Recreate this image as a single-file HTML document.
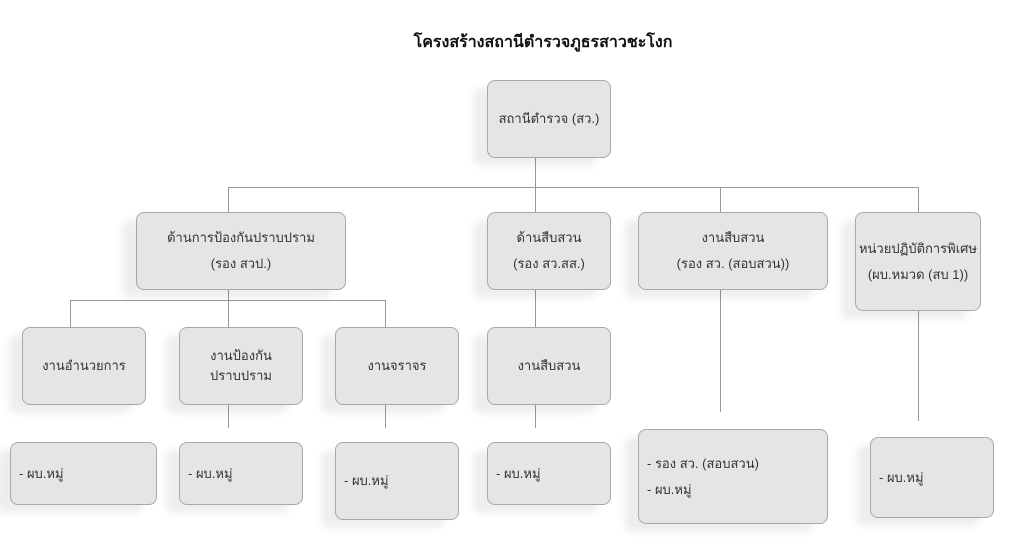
<!DOCTYPE html>
<html><head><meta charset="utf-8"><style>
body{margin:0;width:1024px;height:550px;background:#fff;position:relative;font-family:"Liberation Sans","DejaVu Sans","Noto Sans CJK SC",sans-serif;overflow:hidden}
.b{position:absolute;box-sizing:border-box;background:#e5e5e5;border:1px solid #a8a8a8;border-radius:8px;box-shadow:-14px 8px 8px rgba(0,0,0,0.07);display:flex;flex-direction:column;justify-content:center;align-items:center;text-align:center;font-size:13px;color:#333;line-height:26px}
.l{align-items:flex-start;text-align:left;padding-left:8px}
.h{position:absolute;height:1px;background:#999}
.v{position:absolute;width:1px;background:#999}
.t{position:absolute;top:30px;left:0;width:1086px;text-align:center;font-weight:bold;font-size:16px;color:#111}
</style></head><body>
<div class="t">โครงสร้างสถานีตำรวจภูธรสาวชะโงก</div>
<div class="v" style="left:535px;top:158px;height:54px"></div>
<div class="h" style="left:228px;top:187px;width:691px"></div>
<div class="v" style="left:228px;top:187px;height:25px"></div>
<div class="v" style="left:720px;top:187px;height:25px"></div>
<div class="v" style="left:918px;top:187px;height:25px"></div>
<div class="v" style="left:228px;top:290px;height:10px"></div>
<div class="h" style="left:70px;top:300px;width:316px"></div>
<div class="v" style="left:70px;top:300px;height:27px"></div>
<div class="v" style="left:228px;top:300px;height:27px"></div>
<div class="v" style="left:385px;top:300px;height:27px"></div>
<div class="v" style="left:535px;top:290px;height:37px"></div>
<div class="v" style="left:228px;top:405px;height:23px"></div>
<div class="v" style="left:385px;top:405px;height:23px"></div>
<div class="v" style="left:535px;top:405px;height:23px"></div>
<div class="v" style="left:720px;top:290px;height:122px"></div>
<div class="v" style="left:918px;top:311px;height:110px"></div>

<div class="b" style="left:487px;top:80px;width:124px;height:78px">สถานีตำรวจ (สว.)</div>
<div class="b" style="left:136px;top:212px;width:210px;height:78px">ด้านการป้องกันปราบปราม<br>(รอง สวป.)</div>
<div class="b" style="left:487px;top:212px;width:124px;height:78px">ด้านสืบสวน<br>(รอง สว.สส.)</div>
<div class="b" style="left:638px;top:212px;width:190px;height:78px">งานสืบสวน<br>(รอง สว. (สอบสวน))</div>
<div class="b" style="left:855px;top:212px;width:126px;height:99px">หน่วยปฏิบัติการพิเศษ<br>(ผบ.หมวด (สบ 1))</div>
<div class="b" style="left:22px;top:327px;width:124px;height:78px">งานอำนวยการ</div>
<div class="b" style="left:179px;top:327px;width:124px;height:78px;line-height:20px">งานป้องกัน<br>ปราบปราม</div>
<div class="b" style="left:335px;top:327px;width:124px;height:78px">งานจราจร</div>
<div class="b" style="left:487px;top:327px;width:124px;height:78px">งานสืบสวน</div>
<div class="b l" style="left:10px;top:442px;width:147px;height:63px">- ผบ.หมู่</div>
<div class="b l" style="left:179px;top:442px;width:124px;height:63px">- ผบ.หมู่</div>
<div class="b l" style="left:335px;top:442px;width:124px;height:78px">- ผบ.หมู่</div>
<div class="b l" style="left:487px;top:442px;width:124px;height:63px">- ผบ.หมู่</div>
<div class="b l" style="left:638px;top:429px;width:190px;height:95px">- รอง สว. (สอบสวน)<br>- ผบ.หมู่</div>
<div class="b l" style="left:870px;top:437px;width:124px;height:81px">- ผบ.หมู่</div>
</body></html>
